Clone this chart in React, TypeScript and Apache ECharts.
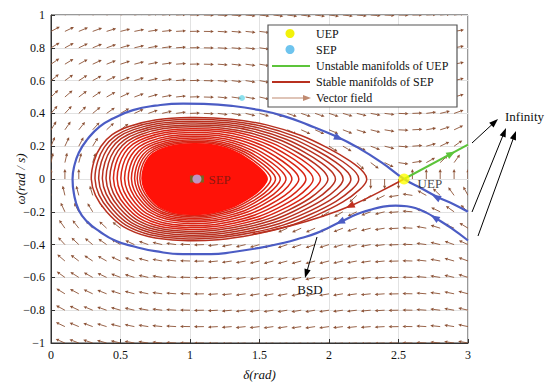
import React, { useEffect, useRef } from "react";
import * as echarts from "echarts";

// ---------- data ----------
const deltaGrid = [0, 0.1, 0.2, 0.3, 0.4, 0.5, 0.6, 0.7, 0.8, 0.9, 1.0, 1.1, 1.2, 1.3, 1.4, 1.5, 1.6, 1.7, 1.8, 1.9, 2.0, 2.1, 2.2, 2.3, 2.4, 2.5, 2.6, 2.7, 2.8, 2.9, 3.0];
const omegaGrid = [-1, -0.9, -0.8, -0.7, -0.6, -0.5, -0.4, -0.3, -0.2, -0.1, 0, 0.1, 0.2, 0.3, 0.4, 0.5, 0.6, 0.7, 0.8, 0.9, 1];
// vertical (dω) component of the field read per δ column
const fieldAccel = [0.96, 0.86, 0.76, 0.66, 0.56, 0.46, 0.37, 0.28, 0.19, 0.11, 0.03, -0.03, -0.1, -0.15, -0.19, -0.23, -0.25, -0.27, -0.27, -0.27, -0.25, -0.23, -0.19, -0.15, -0.1, -0.03, 0.03, 0.11, 0.19, 0.28, 0.37];

const uepPoint = [2.54, 0];
const sepPoint = [1.05, 0];
const strayPoint = [1.374, 0.494];

const blueDelta = [3.0, 2.9, 2.78, 2.66, 2.54, 2.38, 2.2, 2.05, 1.85, 1.67, 1.5, 1.31, 1.1, 0.95, 0.75, 0.59, 0.45, 0.35, 0.26, 0.2, 0.165, 0.155, 0.165, 0.2, 0.26, 0.35, 0.46, 0.59, 0.75, 0.95, 1.15, 1.31, 1.5, 1.67, 1.8, 1.91, 2.0, 2.1, 2.2, 2.29, 2.39, 2.48, 2.56, 2.63, 2.7, 2.77, 2.88, 3.0];
const blueOmega = [-0.2, -0.155, -0.11, -0.055, 0.0, 0.1, 0.195, 0.26, 0.33, 0.385, 0.42, 0.445, 0.458, 0.46, 0.447, 0.42, 0.37, 0.32, 0.24, 0.16, 0.07, 0.0, -0.09, -0.19, -0.26, -0.32, -0.375, -0.41, -0.44, -0.458, -0.458, -0.445, -0.42, -0.39, -0.36, -0.33, -0.295, -0.255, -0.215, -0.19, -0.168, -0.162, -0.166, -0.18, -0.205, -0.24, -0.3, -0.375];

const greenDelta = [2.54, 3.0];
const greenOmega = [0, 0.21];

const redManifoldDelta = [2.54, 2.36, 2.17, 1.95, 1.7, 1.45];
const redManifoldOmega = [0, -0.08, -0.158, -0.228, -0.29, -0.337];

const sepContourDelta = [0.29, 0.31, 0.36, 0.44, 0.56, 0.75, 1.0, 1.3, 1.55, 1.8, 2.0, 2.15, 2.25, 2.27, 2.22, 2.1, 1.9, 1.7, 1.45, 1.2, 0.95, 0.7, 0.52, 0.4, 0.32];
const sepContourOmega = [0.0, 0.11, 0.2, 0.27, 0.32, 0.36, 0.375, 0.365, 0.33, 0.265, 0.185, 0.11, 0.04, -0.01, -0.065, -0.14, -0.225, -0.29, -0.34, -0.37, -0.375, -0.35, -0.29, -0.2, -0.1];
const ringScales = [1, 0.965, 0.93, 0.895, 0.86, 0.825, 0.79, 0.755, 0.72, 0.685, 0.65, 0.62, 0.59, 0.565, 0.54];
const coreScale = 0.52;

// trajectory arrows: [tailδ, tailω, headδ, headω]
const blueArrows = [
  [2.86, -0.15, 2.77, -0.11],
  [1.98, 0.285, 2.07, 0.25],
  [2.18, -0.225, 2.08, -0.262],
  [2.85, -0.283, 2.76, -0.235],
];
const greenArrows = [[2.8, 0.117, 2.88, 0.154]];
const redArrows = [[2.24, -0.13, 2.15, -0.165]];

// ---------- helpers ----------
const FONT = "'Liberation Serif', 'Times New Roman', serif";
const zip = (a: number[], b: number[]) => a.map((v, i) => [v, b[i]]);
const fmt = (v: number) => String(Math.round(v * 100) / 100).replace("-", "\u2212");

const fieldData: number[][] = [];
deltaGrid.forEach((d, i) => {
  omegaGrid.forEach((w) => fieldData.push([d, w, fieldAccel[i]]));
});

function arrowHeadSeries(data: number[][], color: string, z: number) {
  return {
    type: "custom",
    z,
    silent: true,
    data,
    encode: { x: [0, 2], y: [1, 3] },
    renderItem: (_p: any, api: any) => {
      const t = api.coord([api.value(0), api.value(1)]);
      const h = api.coord([api.value(2), api.value(3)]);
      const a = Math.atan2(h[1] - t[1], h[0] - t[0]);
      const ux = Math.cos(a), uy = Math.sin(a);
      const nx = -uy, ny = ux;
      const L = 9, W = 3.6;
      const tip = [h[0] + ux * L / 2, h[1] + uy * L / 2];
      const b = [h[0] - ux * L / 2, h[1] - uy * L / 2];
      return {
        type: "polygon",
        shape: { points: [tip, [b[0] + nx * W, b[1] + ny * W], [b[0] - nx * W, b[1] - ny * W]] },
        style: { fill: color },
      };
    },
  };
}

function gArrow(x1: number, y1: number, x2: number, y2: number, color = "#000", w = 1) {
  const a = Math.atan2(y2 - y1, x2 - x1);
  const ux = Math.cos(a), uy = Math.sin(a);
  const nx = -uy, ny = ux;
  const L = 9, W = 3.2;
  const bx = x2 - ux * L, by = y2 - uy * L;
  return {
    type: "group",
    silent: true,
    z: 50,
    children: [
      { type: "line", z: 50, shape: { x1, y1, x2: bx + ux * 2, y2: by + uy * 2 }, style: { stroke: color, lineWidth: w } },
      { type: "polygon", z: 50, shape: { points: [[x2, y2], [bx + nx * W, by + ny * W], [bx - nx * W, by - ny * W]] }, style: { fill: color } },
    ],
  };
}

export default function App() {
  const ref = useRef<HTMLDivElement>(null);
  useEffect(() => {
    if (!ref.current) return;
    document.body.style.margin = "0";
    const chart = echarts.init(ref.current, null, { renderer: "svg" });
    const K = 0.5;
    const legendY = [33.5, 49.5, 66, 82, 98];
    const legendTexts = ["UEP", "SEP", "Unstable manifolds of UEP", "Stable manifolds of SEP", "Vector field"];
    const LZ = 100;
    const option: any = {
      animation: false,
      backgroundColor: "#fff",
      textStyle: { fontFamily: FONT },
      grid: {
        left: 51, right: 82, top: 15, bottom: 44, containLabel: false, outerBoundsMode: "none",
        show: true, borderColor: "#333", borderWidth: 1, backgroundColor: "transparent",
      },
      xAxis: {
        type: "value", min: 0, max: 3, interval: 0.5,
        axisLine: { show: true, onZero: false, lineStyle: { color: "#333" } },
        axisTick: { show: true, inside: true, length: 4, lineStyle: { color: "#333" } },
        axisLabel: { color: "#111", fontSize: 12, fontFamily: FONT, margin: 6, formatter: (v: number) => fmt(v) },
        splitLine: { show: true, lineStyle: { color: "#e2e2e2" } },
        name: "\u03b4(rad)", nameLocation: "middle", nameGap: 25,
        nameTextStyle: { fontStyle: "italic", fontSize: 13, color: "#111", fontFamily: FONT },
      },
      yAxis: {
        type: "value", min: -1, max: 1, interval: 0.2,
        axisLine: { show: true, onZero: false, lineStyle: { color: "#333" } },
        axisTick: { show: true, inside: true, length: 4, lineStyle: { color: "#333" } },
        axisLabel: { color: "#111", fontSize: 12, fontFamily: FONT, margin: 6, formatter: (v: number) => fmt(v) },
        splitLine: { show: true, lineStyle: { color: "#e2e2e2" } },
      },
      series: [
        {
          type: "custom", name: "Vector field", z: 1, clip: true, silent: true,
          data: fieldData, encode: { x: 0, y: 1 },
          renderItem: (_p: any, api: any) => {
            const d = api.value(0), w = api.value(1), a = api.value(2);
            const p = api.coord([d, w]);
            const vx = w, vy = a * K;
            const m = Math.hypot(vx, vy) || 1;
            const ux = vx / m, uy = -vy / m;
            const nx = -uy, ny = ux;
            const L = 10;
            const hx = p[0] + ux * L, hy = p[1] + uy * L;
            const bx = hx - ux * 3.2, by = hy - uy * 3.2;
            return {
              type: "group",
              children: [
                { type: "line", shape: { x1: p[0], y1: p[1], x2: bx, y2: by }, style: { stroke: "#8c5236", lineWidth: 0.9 } },
                { type: "polygon", shape: { points: [[hx, hy], [bx + nx * 1.6, by + ny * 1.6], [bx - nx * 1.6, by - ny * 1.6]] }, style: { fill: "#8c5236" } },
              ],
            };
          },
        },
        {
          type: "custom", name: "Stable manifolds of SEP rings", z: 2, silent: true,
          data: [...ringScales, coreScale].map((f) => [sepPoint[0], sepPoint[1], f]),
          encode: { x: 0, y: 1 },
          renderItem: (params: any, api: any) => {
            const f = api.value(2);
            const pts = sepContourDelta.map((d, i) => {
              const dx = d - sepPoint[0];
              const gx = dx > 0 ? Math.pow(f, 1.35) : f;
              const gy = Math.pow(f, 0.85);
              return api.coord([sepPoint[0] + dx * gx, sepPoint[1] + (sepContourOmega[i] - sepPoint[1]) * gy]);
            });
            const isCore = params.dataIndex === ringScales.length;
            const isOuter = params.dataIndex === 0;
            const stroke = isCore ? "#ff1208" : params.dataIndex < 6 ? "#b8301f" : "#d82414";
            return {
              type: "polygon",
              shape: { points: pts, smooth: 0.35 },
              style: { fill: isCore ? "#ff1208" : isOuter ? "#fff" : "none", stroke, lineWidth: 1.5 },
            };
          },
        },
        {
          type: "line", name: "Stable manifolds of SEP", z: 3, data: zip(redManifoldDelta, redManifoldOmega),
          showSymbol: false, smooth: true, silent: true, lineStyle: { color: "#b8301f", width: 1.6 },
        },
        {
          type: "line", name: "Stability boundary", z: 4, data: zip(blueDelta, blueOmega),
          showSymbol: false, smooth: true, silent: true, lineStyle: { color: "#4b5cc4", width: 2.2 },
        },
        {
          type: "line", name: "Unstable manifolds of UEP", z: 4, data: zip(greenDelta, greenOmega),
          showSymbol: false, silent: true, lineStyle: { color: "#5cc43a", width: 2 },
        },
        arrowHeadSeries(blueArrows, "#4b5cc4", 5),
        arrowHeadSeries(greenArrows, "#5cc43a", 5),
        arrowHeadSeries(redArrows, "#c0301e", 5),
        {
          type: "scatter", z: 6, silent: true, data: [sepPoint], symbol: "rect", symbolSize: [14, 7],
          itemStyle: { color: "#557a2a" },
        },
        {
          type: "scatter", name: "SEP", z: 7, silent: true, data: [sepPoint], symbolSize: 9,
          itemStyle: { color: "#cfa3ea" },
          label: { show: true, position: "right", distance: 7, formatter: "SEP", color: "#6e1a12", fontSize: 13, fontFamily: FONT },
        },
        {
          type: "scatter", name: "UEP", z: 7, silent: true, data: [uepPoint], symbolSize: 11,
          itemStyle: { color: "#ffff00" },
          label: { show: true, position: "right", distance: 8, offset: [0, 4], formatter: "UEP", color: "#111", fontSize: 13, fontFamily: FONT },
        },
        {
          type: "scatter", z: 7, silent: true, data: [strayPoint], symbolSize: 6,
          itemStyle: { color: "#6fd8e8" },
        },
      ],
      graphic: [
        {
          type: "text", silent: true, z: 50, x: 20, y: 179, rotation: Math.PI / 2,
          style: { text: "\u03c9(rad / s)", fontSize: 13, fontStyle: "italic", fontFamily: FONT, fill: "#111", align: "center", verticalAlign: "middle" },
        },
        gArrow(472, 143, 498, 119),
        gArrow(472, 212, 506, 128),
        gArrow(478, 236, 516, 131),
        gArrow(317, 237, 305, 278),
        { type: "text", silent: true, z: 50, x: 505, y: 116, style: { text: "Infinity", fontSize: 13, fontFamily: FONT, fill: "#111", verticalAlign: "middle" } },
        { type: "text", silent: true, z: 50, x: 310, y: 289, style: { text: "BSD", fontSize: 13, fontFamily: FONT, fill: "#111", align: "center", verticalAlign: "middle" } },
        { type: "rect", silent: true, z: LZ, shape: { x: 268, y: 25, width: 189, height: 82 }, style: { fill: "#fff", stroke: "#555", lineWidth: 1.2 } },
        { type: "circle", silent: true, z: LZ + 1, shape: { cx: 290, cy: legendY[0], r: 4.5 }, style: { fill: "#f2f20a" } },
        { type: "circle", silent: true, z: LZ + 1, shape: { cx: 290, cy: legendY[1], r: 4.5 }, style: { fill: "#6ec4ee" } },
        { type: "line", silent: true, z: LZ + 1, shape: { x1: 272, y1: legendY[2], x2: 310, y2: legendY[2] }, style: { stroke: "#5cc43a", lineWidth: 2 } },
        { type: "line", silent: true, z: LZ + 1, shape: { x1: 272, y1: legendY[3], x2: 310, y2: legendY[3] }, style: { stroke: "#b8301f", lineWidth: 2 } },
        { type: "line", silent: true, z: LZ + 1, shape: { x1: 272, y1: legendY[4], x2: 306, y2: legendY[4] }, style: { stroke: "#c08a70", lineWidth: 1.2 } },
        { type: "polygon", silent: true, z: LZ + 1, shape: { points: [[311, legendY[4]], [303, legendY[4] - 3], [303, legendY[4] + 3]] }, style: { fill: "#c08a70" } },
        ...legendTexts.map((t, i) => ({
          type: "text", silent: true, z: LZ + 1, x: 316, y: legendY[i],
          style: { text: t, fontSize: 12, fontFamily: FONT, fill: "#111", verticalAlign: "middle" },
        })),
      ],
    };
    chart.setOption(option);
    return () => chart.dispose();
  }, []);
  return <div ref={ref} style={{ width: 550, height: 387 }} />;
}
